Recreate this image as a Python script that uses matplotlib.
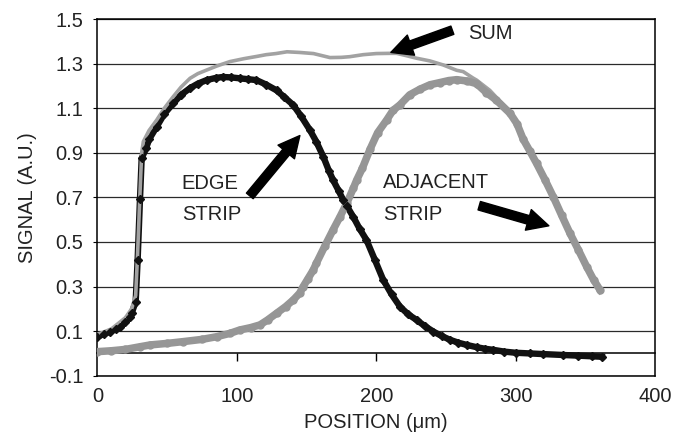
import matplotlib.pyplot as plt
import numpy as np

plt.rcParams['font.family'] = ['Liberation Sans', 'DejaVu Sans']

# values
edge_x = [0, 5, 9, 13, 16, 20, 23, 24.5, 27.4, 28.8, 30.5, 31.7, 34.8, 37.2,
          42.5, 48, 54.4, 60, 66.4, 72, 78.3, 85, 90, 96, 102, 108, 114, 121,
          128.5, 134, 140.5, 146, 152.4, 157, 162, 166, 169, 173, 176.3, 179,
          183.5, 188, 193, 199, 205, 211, 217, 223, 229, 235, 241, 247, 253,
          259, 265, 272, 278, 284, 292, 300, 310, 320, 334, 345, 355, 362]
edge_y = [0.075, 0.088, 0.098, 0.11, 0.12, 0.14, 0.165, 0.18, 0.232, 0.419,
          0.693, 0.875, 0.92, 0.962, 1.017, 1.075, 1.122, 1.16, 1.19, 1.21,
          1.226, 1.236, 1.24, 1.238, 1.234, 1.23, 1.226, 1.206, 1.18, 1.15,
          1.114, 1.065, 1.002, 0.95, 0.883, 0.82, 0.778, 0.73, 0.688, 0.66,
          0.613, 0.56, 0.509, 0.42, 0.33, 0.265, 0.21, 0.175, 0.15, 0.122,
          0.098, 0.078, 0.061, 0.048, 0.038, 0.028, 0.021, 0.016, 0.008,
          0.003, 0.0, -0.003, -0.007, -0.01, -0.013, -0.015]

adj_x = [0, 10, 20, 30.5, 37.7, 50, 61.5, 75, 85.5, 95, 102, 110, 116.6, 122,
         128.5, 135, 140.5, 145, 147.6, 151, 154.8, 157, 163, 169, 174, 178.8,
         183.5, 186, 190, 195.5, 201, 207.5, 212, 217, 224, 231.3, 238.5,
         245.7, 252, 257.7, 265, 272, 279, 286, 296, 301, 305.5, 310, 315,
         321, 327, 333, 339, 345, 351, 356, 360.5]
adj_y = [0.008, 0.012, 0.018, 0.03, 0.038, 0.045, 0.053, 0.063, 0.075, 0.09,
         0.105, 0.116, 0.128, 0.15, 0.18, 0.21, 0.24, 0.27, 0.30, 0.335,
         0.374, 0.404, 0.48, 0.554, 0.613, 0.673, 0.74, 0.778, 0.83, 0.915,
         0.99, 1.047, 1.09, 1.115, 1.16, 1.185, 1.205, 1.215, 1.224, 1.228,
         1.222, 1.21, 1.17, 1.137, 1.077, 1.03, 0.96, 0.91, 0.853, 0.78,
         0.703, 0.62, 0.539, 0.465, 0.389, 0.33, 0.285]

sum_x = [0, 10, 20, 24.5, 27.4, 28.8, 30.5, 31.7, 32.9, 37, 42.5, 48, 54.4,
         60, 66.4, 72, 78.3, 86, 95, 105, 115, 121, 128, 136, 145, 155, 166.8,
         175, 181, 190.6, 200, 209.8, 214.6, 222, 229, 238.5, 248, 257.7,
         262.4, 269.5, 272, 281.5, 286, 296, 305.5, 315, 327, 339, 351, 360.5]
sum_y = [0.085, 0.11, 0.16, 0.2, 0.26, 0.45, 0.72, 0.9, 0.95, 1.0, 1.047, 1.1,
         1.152, 1.195, 1.234, 1.255, 1.271, 1.29, 1.309, 1.322, 1.333, 1.34,
         1.345, 1.353, 1.35, 1.345, 1.327, 1.328, 1.331, 1.34, 1.345, 1.346,
         1.346, 1.335, 1.324, 1.312, 1.294, 1.27, 1.264, 1.235, 1.226, 1.18,
         1.15, 1.085, 0.965, 0.858, 0.707, 0.535, 0.38, 0.272]

y_ticks = [-0.1, 0.1, 0.3, 0.5, 0.7, 0.9, 1.1, 1.3, 1.5]
x_ticks = [0, 100, 200, 300, 400]

FS = 14.5

fig = plt.figure(figsize=(6.88, 4.34), dpi=100)
ax = fig.add_axes([0.1417, 0.1343, 0.8103, 0.8219])

# curves
ax.plot(edge_x, edge_y, color='#111111', lw=4.6, zorder=3)
ax.plot(sum_x, sum_y, color='#a2a2a2', lw=2.6, zorder=4)
ax.plot(adj_x, adj_y, color='#969696', lw=5.4, marker='o', ms=5,
        solid_capstyle='round', zorder=5)
ax.plot(edge_x, edge_y, ls='none', marker='D', ms=4.5, color='#111111', zorder=6)

ax.set_xlim(0, 400)
ax.set_ylim(-0.1, 1.5)
ax.set_yticks(y_ticks)
ax.set_yticklabels([f"{v:.1f}" for v in y_ticks])
ax.set_xticks(x_ticks)
ax.grid(axis='y', color='#2a2a2a', lw=0.9, zorder=1)
ax.set_axisbelow(True)
for s in ax.spines.values():
    s.set_linewidth(1.1)
    s.set_color('black')

ax.tick_params(axis='x', length=0, pad=8, labelsize=FS, labelcolor='#222222')
ax.tick_params(axis='y', length=3, direction='out', pad=7, labelsize=FS,
               labelcolor='#222222', color='black')

# axis line crossing at y = 0 with ticks
sec = ax.secondary_xaxis(0.1 / 1.6)
sec.set_xticks([100, 200, 300])
sec.tick_params(direction='out', length=6, width=1, labelbottom=False)
sec.spines['bottom'].set_linewidth(1.1)

ax.set_xlabel('POSITION (μm)', fontsize=FS, labelpad=5, color='#222222')
ax.set_ylabel('SIGNAL (A.U.)', fontsize=FS, labelpad=9, color='#222222')

# annotations
arrow = dict(arrowstyle='simple,head_length=1.1,head_width=1.1,tail_width=0.45',
             fc='black', ec='black', mutation_scale=14)
ax.annotate('', xy=(208.6, 1.346), xytext=(256.5, 1.454), arrowprops=arrow,
            zorder=8)
ax.annotate('', xy=(146.5, 0.987), xytext=(108, 0.697), arrowprops=arrow,
            zorder=8)
ax.annotate('', xy=(325.8, 0.569), xytext=(272, 0.666), arrowprops=arrow,
            zorder=8)

txt = dict(fontsize=FS, va='center', ha='left', color='#222222', zorder=8)
ax.text(265.8, 1.435, 'SUM', **txt)
ax.text(60.4, 0.762, 'EDGE', **txt)
ax.text(60.4, 0.621, 'STRIP', **txt)
ax.text(204.8, 0.765, 'ADJACENT', **txt)
ax.text(204.8, 0.621, 'STRIP', **txt)

fig.savefig('out.png', dpi=100)
